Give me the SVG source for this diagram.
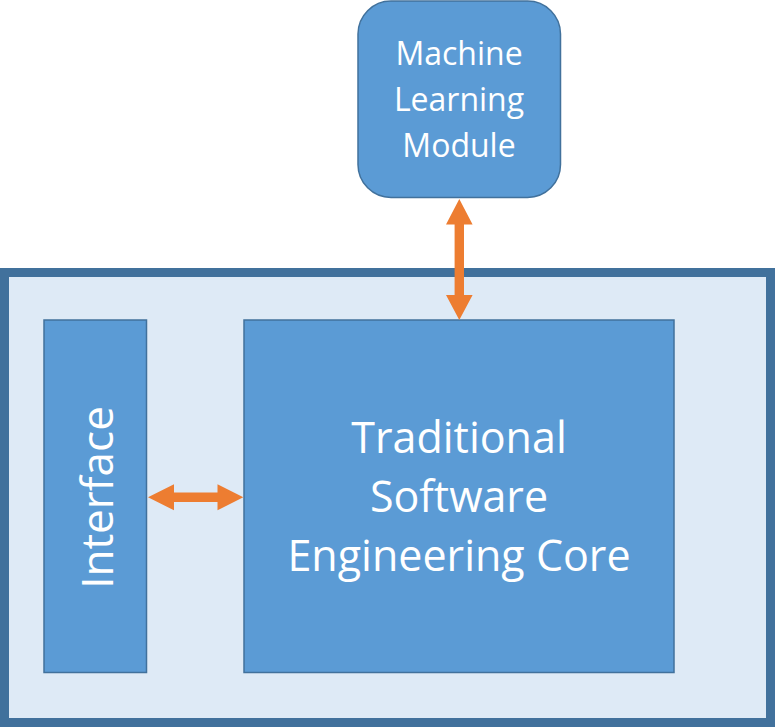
<svg xmlns="http://www.w3.org/2000/svg" width="775" height="727" viewBox="0 0 775 727">
<style>
.box{fill:#5B9BD5;stroke:#41719C;stroke-width:1.5}
.lbl{fill:#FFFFFF;font-family:"Open Sans","Noto Sans",sans-serif;text-anchor:middle}
.arr{fill:#ED7D31}
</style>
<rect width="775" height="727" fill="#FFFFFF"/>
<g id="container">
<rect x="4.5" y="272.5" width="766" height="450" fill="#DEEAF6" stroke="#41719C" stroke-width="9"/>
</g>
<g id="ml-module">
<rect class="box" x="358" y="1" width="202.5" height="196.5" rx="33" ry="33"/>
<text class="lbl" font-size="32" x="459" y="65">Machine</text>
<text class="lbl" font-size="32" x="459" y="111">Learning</text>
<text class="lbl" font-size="32" x="459" y="157">Module</text>
</g>
<g id="interface">
<rect class="box" x="44" y="320" width="102.5" height="352.5"/>
<text class="lbl" font-size="44" transform="translate(113,497.5) rotate(-90)" x="0" y="0">Interface</text>
</g>
<g id="core">
<rect class="box" x="244" y="320" width="430" height="352.5"/>
<text class="lbl" font-size="43" x="459" y="453">Traditional</text>
<text class="lbl" font-size="43" x="459" y="512">Software</text>
<text class="lbl" font-size="43" x="459" y="571">Engineering Core</text>
</g>
<g id="connectors">
<polygon class="arr" points="459.3,199 472.6,224.5 464,224.5 464,295 472.6,295 459.3,320 446,295 454.6,295 454.6,224.5 446,224.5"/>
<polygon class="arr" points="148,497.3 174,484.3 174,492.5 217.5,492.5 217.5,484.3 243.3,497.3 217.5,510.3 217.5,502.1 174,502.1 174,510.3"/>
</g>
</svg>
